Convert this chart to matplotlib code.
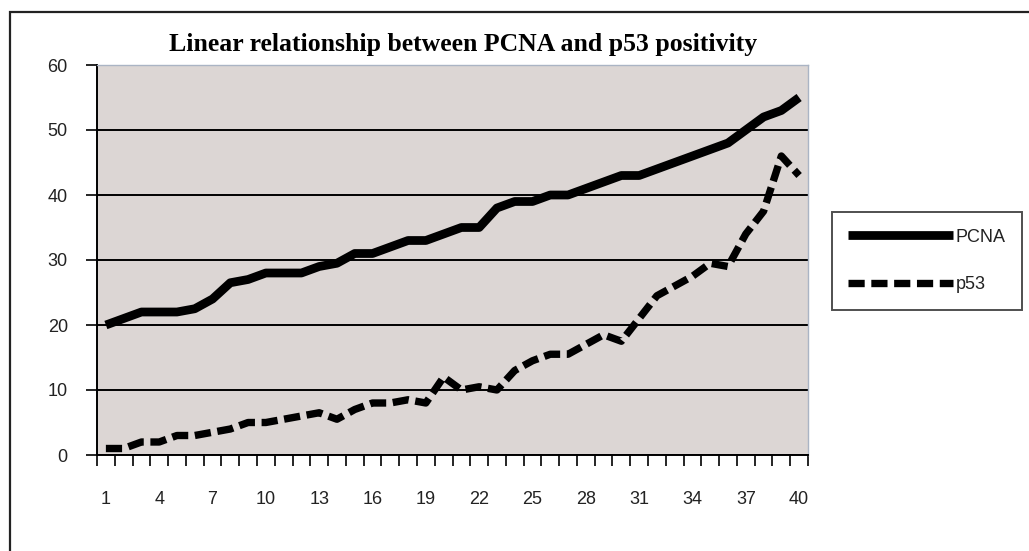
import matplotlib
matplotlib.use("Agg")
import matplotlib.pyplot as plt
from matplotlib.patches import Rectangle
import numpy as np

# Dane
cases = list(range(1, 41))
pcna = [20, 21, 22, 22, 22, 22.5, 24, 26.5, 27, 28,
        28, 28, 29, 29.5, 31, 31, 32, 33, 33, 34,
        35, 35, 38, 39, 39, 40, 40, 41, 42, 43,
        43, 44, 45, 46, 47, 48, 50, 52, 53, 55]
p53 = [1, 1, 2, 2, 3, 3, 3.5, 4, 5, 5,
       5.5, 6, 6.5, 5.5, 7, 8, 8, 8.5, 8, 12,
       10, 10.5, 10, 13, 14.5, 15.5, 15.5, 17, 18.5, 17.5,
       21, 24.5, 26, 27.5, 29.5, 29, 34, 37.5, 46, 43]
x_labels = [1, 4, 7, 10, 13, 16, 19, 22, 25, 28, 31, 34, 37, 40]
y_ticks = [0, 10, 20, 30, 40, 50, 60]

plt.rcParams['font.family'] = ['Liberation Sans', 'DejaVu Sans']

W, H = 1029, 551
fig = plt.figure(figsize=(W / 100, H / 100), dpi=100)
fig.patch.set_facecolor('white')

# ramka całego wykresu (ucięta z prawej i z dołu)
fig.patches.append(Rectangle((10 / W, -0.05), 1.1, 1 - 12 / H + 0.05,
                             transform=fig.transFigure, fill=False,
                             edgecolor='#222222', linewidth=1.6))

ax = fig.add_axes([97 / W, 1 - 455 / H, (808 - 97) / W, (455 - 65) / H])
ax.set_facecolor('#dcd6d4')

ax.plot(cases, pcna, color='black', linewidth=6.3, solid_capstyle='butt',
        solid_joinstyle='round', label='PCNA')
ax.plot(cases, p53, color='black', linewidth=5.3, linestyle=(0, (2.2, 0.9)),
        dash_capstyle='butt', label='p53')

ax.set_xlim(0.5, 40.5)
ax.set_ylim(0, 60)
ax.set_yticks(y_ticks)
ax.set_xticks(x_labels)
ax.set_xticks(np.arange(0.5, 41, 1), minor=True)
ax.yaxis.grid(True, color='black', linewidth=1.4)
ax.set_axisbelow(True)

ax.tick_params(axis='x', which='major', length=0, pad=26,
               labelsize=13, labelcolor='#222222')
ax.tick_params(axis='x', which='minor', length=8, width=1.2, direction='out')
ax.tick_params(axis='y', length=8, width=1.2, direction='out', pad=13,
               labelsize=13, labelcolor='#222222')

for s in ['left', 'bottom']:
    ax.spines[s].set_color('black')
    ax.spines[s].set_linewidth(1.4)
for s in ['top', 'right']:
    ax.spines[s].set_color('#aab4c4')
    ax.spines[s].set_linewidth(1)

fig.text(463 / W, 1 - 44 / H, 'Linear relationship between PCNA and p53 positivity',
         ha='center', va='center', fontsize=18.5, fontweight='bold',
         family=['Liberation Serif', 'DejaVu Serif'])

leg = ax.legend(loc='center left', bbox_to_anchor=(832 / W, 1 - 261 / H),
                bbox_transform=fig.transFigure, frameon=True, fancybox=False,
                edgecolor='#222222', facecolor='white', fontsize=13,
                handlelength=5.8, handletextpad=0.15, borderpad=0.9,
                labelspacing=1.7, borderaxespad=0)
leg.get_frame().set_linewidth(1.4)
for t in leg.get_texts():
    t.set_color('#222222')

fig.savefig('out.png', dpi=100)
